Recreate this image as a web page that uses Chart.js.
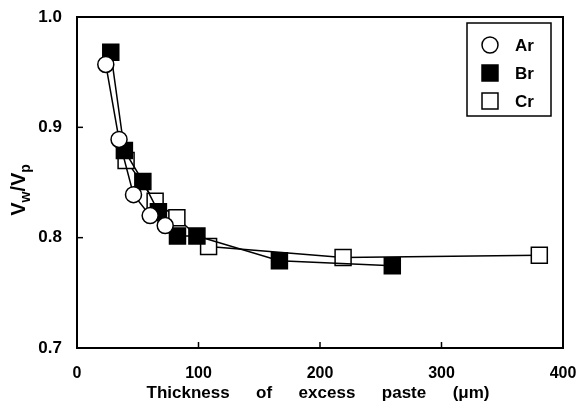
<!DOCTYPE html>
<html lang="en">
<head>
<meta charset="UTF-8" />
<title>Vw/Vp vs thickness of excess paste</title>
<script src="https://cdn.jsdelivr.net/npm/chart.js"></script>
<style>
  html, body { margin: 0; padding: 0; background: #fff; }
</style>
</head>
<body>
<canvas id="pasteChart" width="586" height="409"></canvas>
<script>
  // values
  const arX = [23.7, 34.6, 46.5, 60.2, 72.6];
  const arY = [0.957, 0.889, 0.839, 0.82, 0.811];
  const brX = [27.8, 39.0, 54.2, 67.0, 82.7, 98.7, 166.6, 259.5];
  const brY = [0.968, 0.879, 0.851, 0.8235, 0.8015, 0.8015, 0.779, 0.7745];
  const crX = [40.4, 64.3, 82.2, 108.3, 219.0, 380.5];
  const crY = [0.87, 0.833, 0.818, 0.792, 0.782, 0.784];
  const seriesLabels = ["Ar", "Br", "Cr"];
  const xTicks = [0, 100, 200, 300, 400];
  const yTicks = [0.7, 0.8, 0.9, 1.0];
  const xTitle = ["Thickness", "of", "excess", "paste", "(μm)"];

  const FONT = "'Liberation Sans', Arial, sans-serif";

  function toPoints(xs, ys) {
    return xs.map((x, i) => ({ x: x, y: ys[i] }));
  }

  const styles = [
    { pointStyle: "circle", radius: 8, fill: "#fff" },
    { pointStyle: "rect", radius: 11.3, fill: "#000" },
    { pointStyle: "rect", radius: 11.3, fill: "#fff" },
  ];

  const datasets = [
    toPoints(arX, arY),
    toPoints(brX, brY),
    toPoints(crX, crY),
  ].map((pts, i) => ({
    label: seriesLabels[i],
    data: pts,
    showLine: true,
    borderColor: "#000",
    borderWidth: 1.5,
    pointStyle: styles[i].pointStyle,
    pointRadius: styles[i].radius,
    pointHoverRadius: styles[i].radius,
    pointBackgroundColor: styles[i].fill,
    pointBorderColor: "#000",
    pointBorderWidth: 1.5,
  }));

  function drawMarker(ctx, style, x, y) {
    ctx.beginPath();
    if (style.pointStyle === "circle") {
      ctx.arc(x, y, style.radius, 0, Math.PI * 2);
    } else {
      const s = style.radius * Math.SQRT1_2;
      ctx.rect(x - s, y - s, 2 * s, 2 * s);
    }
    ctx.fillStyle = style.fill;
    ctx.fill();
    ctx.lineWidth = 1.5;
    ctx.strokeStyle = "#000";
    ctx.stroke();
  }

  // frame, inward ticks, axis titles and the boxed legend
  const decorations = {
    id: "decorations",
    afterDraw(chart) {
      const { ctx, chartArea: a, scales } = chart;
      ctx.save();
      ctx.strokeStyle = "#000";
      ctx.lineWidth = 2;
      ctx.strokeRect(a.left, a.top, a.right - a.left, a.bottom - a.top);

      ctx.lineWidth = 1.5;
      xTicks.slice(1, -1).forEach((v) => {
        const px = scales.x.getPixelForValue(v);
        ctx.beginPath();
        ctx.moveTo(px, a.bottom);
        ctx.lineTo(px, a.bottom - 6);
        ctx.stroke();
      });
      yTicks.slice(1, -1).forEach((v) => {
        const py = scales.y.getPixelForValue(v);
        ctx.beginPath();
        ctx.moveTo(a.left, py);
        ctx.lineTo(a.left + 6, py);
        ctx.stroke();
      });

      // x title, words spread out like the original
      ctx.fillStyle = "#000";
      ctx.font = "bold 17px " + FONT;
      ctx.textBaseline = "alphabetic";
      ctx.textAlign = "left";
      const widths = xTitle.map((w) => ctx.measureText(w).width);
      const total = 343;
      const gap = (total - widths.reduce((s, w) => s + w, 0)) / (xTitle.length - 1);
      let tx = 318 - total / 2;
      xTitle.forEach((w, i) => {
        ctx.fillText(w, tx, 398);
        tx += widths[i] + gap;
      });

      // y title V_w/V_p, rotated
      ctx.save();
      ctx.translate(25, 190);
      ctx.rotate(-Math.PI / 2);
      const parts = [
        { t: "V", sub: false },
        { t: "w", sub: true },
        { t: "/V", sub: false },
        { t: "p", sub: true },
      ];
      const big = "bold 20px " + FONT;
      const small = "bold 14px " + FONT;
      let len = 0;
      parts.forEach((p) => {
        ctx.font = p.sub ? small : big;
        p.w = ctx.measureText(p.t).width;
        len += p.w;
      });
      let px = -len / 2;
      parts.forEach((p) => {
        ctx.font = p.sub ? small : big;
        ctx.fillText(p.t, px, p.sub ? 5 : 0);
        px += p.w;
      });
      ctx.restore();

      // legend
      ctx.lineWidth = 1.5;
      ctx.strokeRect(467, 23, 84, 93);
      ctx.font = "bold 17px " + FONT;
      ctx.textBaseline = "middle";
      chart.data.datasets.forEach((ds, i) => {
        const ly = 45 + i * 28;
        drawMarker(ctx, styles[i], 490, ly);
        ctx.fillStyle = "#000";
        ctx.fillText(ds.label, 515, ly + 1);
      });
      ctx.restore();
    },
  };

  new Chart(document.getElementById("pasteChart"), {
    type: "scatter",
    data: { datasets: datasets },
    options: {
      responsive: false,
      animation: false,
      layout: { padding: { top: 17, right: 23, left: 0, bottom: 0 } },
      plugins: {
        legend: { display: false },
        tooltip: { enabled: false },
      },
      scales: {
        x: {
          type: "linear",
          min: 0,
          max: 400,
          afterFit: (s) => {
            s.height = 61;
            s.paddingLeft = 0;
            s.paddingRight = 0;
          },
          afterBuildTicks: (s) => { s.ticks = xTicks.map((v) => ({ value: v })); },
          grid: { display: false, drawTicks: false },
          border: { display: false },
          ticks: {
            padding: 16,
            color: "#000",
            font: { family: FONT, size: 16, weight: "bold" },
          },
        },
        y: {
          type: "linear",
          min: 0.7,
          max: 1.0,
          afterFit: (s) => {
            s.width = 77;
            s.paddingTop = 0;
            s.paddingBottom = 0;
          },
          afterBuildTicks: (s) => { s.ticks = yTicks.map((v) => ({ value: v })); },
          grid: { display: false, drawTicks: false },
          border: { display: false },
          ticks: {
            padding: 15,
            color: "#000",
            font: { family: FONT, size: 17, weight: "bold" },
            callback: (v) => Number(v).toFixed(1),
          },
        },
      },
    },
    plugins: [decorations],
  });
</script>
</body>
</html>
